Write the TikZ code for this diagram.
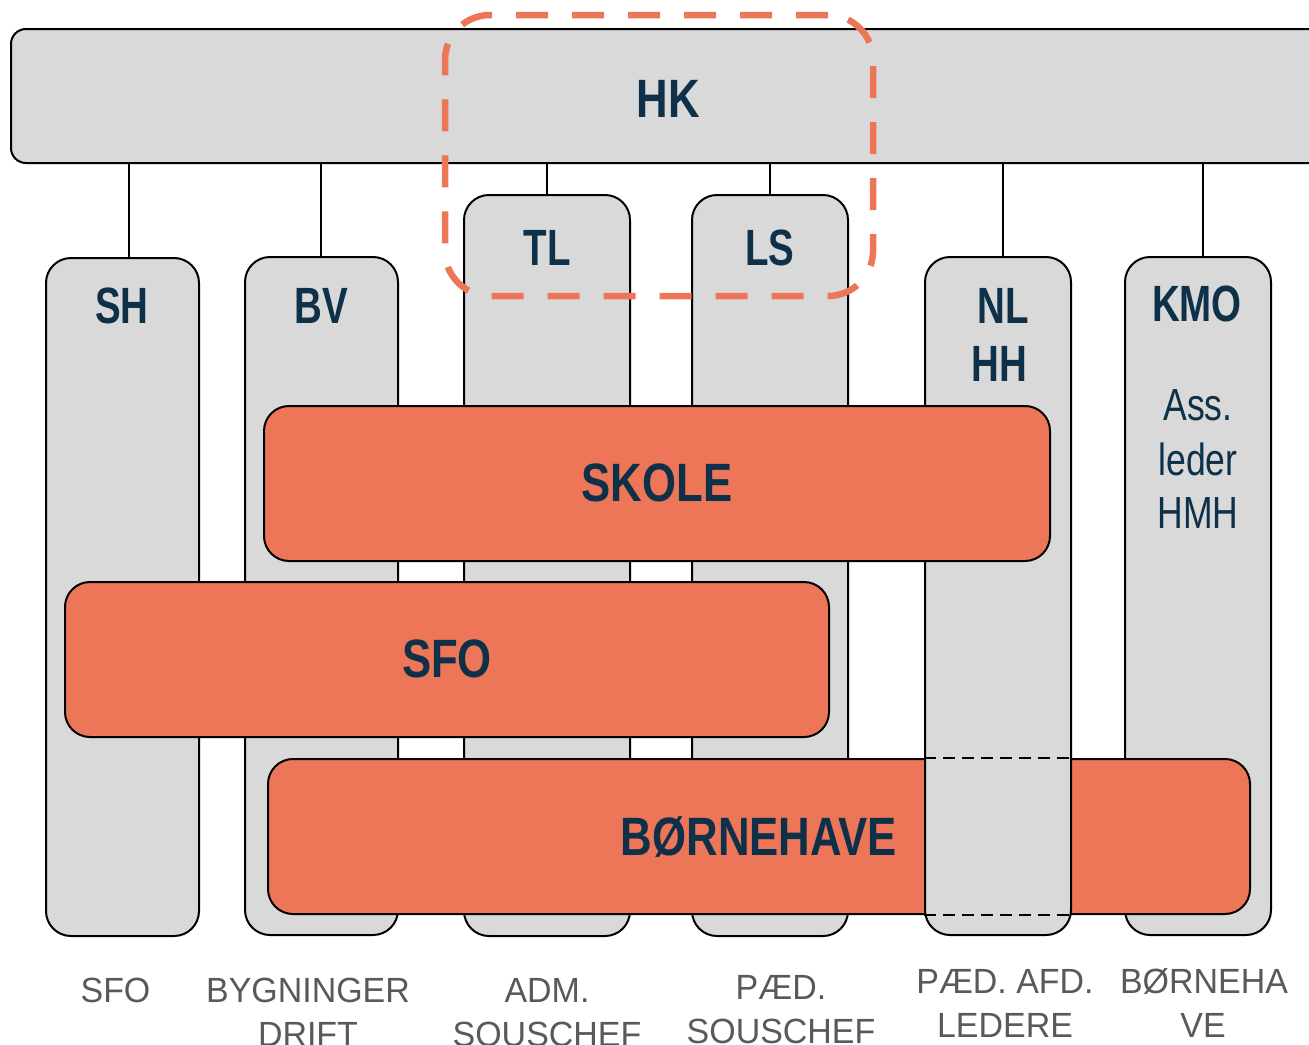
\documentclass[tikz,border=0pt]{standalone}
\usepackage{fontspec}
\newfontfamily\boldnarrow{Liberation Sans}[FakeStretch=0.81]
\newfontfamily\colnarrow{Liberation Sans}[FakeStretch=0.755]
\newfontfamily\regnarrow{Liberation Sans}[FakeStretch=0.79]
\newfontfamily\botfont{Liberation Sans}[FakeStretch=0.97]
\definecolor{boxgray}{HTML}{D9D9D9}
\definecolor{coral}{HTML}{EE7658}
\definecolor{navy}{HTML}{0E3048}
\definecolor{labgray}{HTML}{595959}
\tikzset{
  graybox/.style={draw=black, fill=boxgray, line width=2pt, rounded corners=25pt, inner sep=0pt, minimum width=#1},
  orangebox/.style={draw=black, fill=coral, line width=2pt, rounded corners=25pt, inner sep=0pt, minimum height=155pt, minimum width=#1},
  conn/.style={draw=black, line width=1.5pt},
  bigbold/.style={inner sep=0pt, anchor=base, text=navy, font=\boldnarrow\bfseries\fontsize{54}{60}\selectfont},
  colbold/.style={inner sep=0pt, anchor=base, text=navy, font=\colnarrow\bfseries\fontsize{51}{56}\selectfont},
  regtext/.style={inner sep=0pt, anchor=base, text=navy, font=\regnarrow\fontsize{45}{54}\selectfont},
  botlbl/.style={inner sep=0pt, anchor=base, text=labgray, font=\botfont\fontsize{35}{44}\selectfont},
  nldash/.style={draw=black, line width=1.8pt, dash pattern=on 12pt off 7pt},
  groupline/.style={draw=coral, line width=6.5pt, dash pattern=on 32pt off 24pt, rounded corners=45pt, inner sep=0pt}
}
\begin{document}
\begin{tikzpicture}[x=1pt,y=-1pt]
\useasboundingbox (0,0) rectangle (1309,1044);
\clip (0,0) rectangle (1309,1044);

% top box
\node[graybox=1324pt, minimum height=134pt, rounded corners=15pt] (HK) at (673,96) {};
\node[bigbold] (HKt) at (668,117) {HK};

% connector x positions
\coordinate (cSH) at (129,0);
\coordinate (cBV) at (321,0);
\coordinate (cTL) at (547,0);
\coordinate (cLS) at (770,0);
\coordinate (cNL) at (1003,0);
\coordinate (cKMO) at (1203,0);

% columns
\node[graybox=153pt, minimum height=678pt] (SH) at (122.5,597) {};
\node[graybox=153pt, minimum height=678pt] (BV) at (321.5,596) {};
\node[graybox=166pt, minimum height=741pt] (TL) at (547,565.5) {};
\node[graybox=156pt, minimum height=741pt] (LS) at (770,565.5) {};
\node[graybox=146pt, minimum height=678pt] (KMO) at (1198,596) {};

\draw[conn] (HK.south -| cSH) -- (SH.north -| cSH);
\draw[conn] (HK.south -| cBV) -- (BV.north -| cBV);
\draw[conn] (HK.south -| cTL) -- (TL.north -| cTL);
\draw[conn] (HK.south -| cLS) -- (LS.north -| cLS);
\draw[conn] (HK.south -| cKMO) -- (KMO.north -| cKMO);

% column labels
\node[colbold] (SHt) at (122,323) {SH};
\node[colbold] (BVt) at (321,323) {BV};
\node[colbold] (TLt) at (547,265) {TL};
\node[colbold] (LSt) at (770,265) {LS};
\node[colbold] (KMOt) at (1197,321) {KMO};
\node[regtext] (ass1) at (1198,420) {Ass.};
\node[regtext] (ass2) at (1198,475) {leder};
\node[regtext] (ass3) at (1198,528) {HMH};

% BØRNEHAVE band
\node[orangebox=982pt] (BH) at (759,836.5) {};
\node[bigbold] (BHt) at (759,855) {BØRNEHAVE};

% NL column above the BØRNEHAVE band
\node[graybox=146pt, minimum height=678pt] (NL) at (998,596) {};
\draw[conn] (HK.south -| cNL) -- (NL.north -| cNL);
\draw[nldash] (NL.west |- BH.north) -- (NL.east |- BH.north);
\draw[nldash] (NL.west |- BH.south) -- (NL.east |- BH.south);
\node[colbold] (NLt) at (1003,323) {NL};
\node[colbold] (HHt) at (999,381) {HH};

% SKOLE and SFO bands
\node[orangebox=786pt] (SK) at (657,483.5) {};
\node[bigbold] (SKt) at (657,501) {SKOLE};
\node[orangebox=764pt] (SF) at (447,659.5) {};
\node[bigbold] (SFt) at (447,677) {SFO};

% dashed group outline
\node[groupline, minimum width=428pt, minimum height=281pt] (grp) at (659,155.5) {};

% bottom labels
\node[botlbl] (b1) at (115.5,1002) {SFO};
\node[botlbl] (b2a) at (308,1002) {BYGNINGER};
\node[botlbl] (b2b) at (308,1046) {DRIFT};
\node[botlbl] (b3a) at (547,1002) {ADM.};
\node[botlbl] (b3b) at (547,1046) {SOUSCHEF};
\node[botlbl] (b4a) at (781,999) {PÆD.};
\node[botlbl] (b4b) at (781,1043) {SOUSCHEF};
\node[botlbl] (b5a) at (1005,993) {PÆD. AFD.};
\node[botlbl] (b5b) at (1005,1037) {LEDERE};
\node[botlbl] (b6a) at (1204,993) {BØRNEHA};
\node[botlbl] (b6b) at (1203,1037) {VE};
\end{tikzpicture}
\end{document}
